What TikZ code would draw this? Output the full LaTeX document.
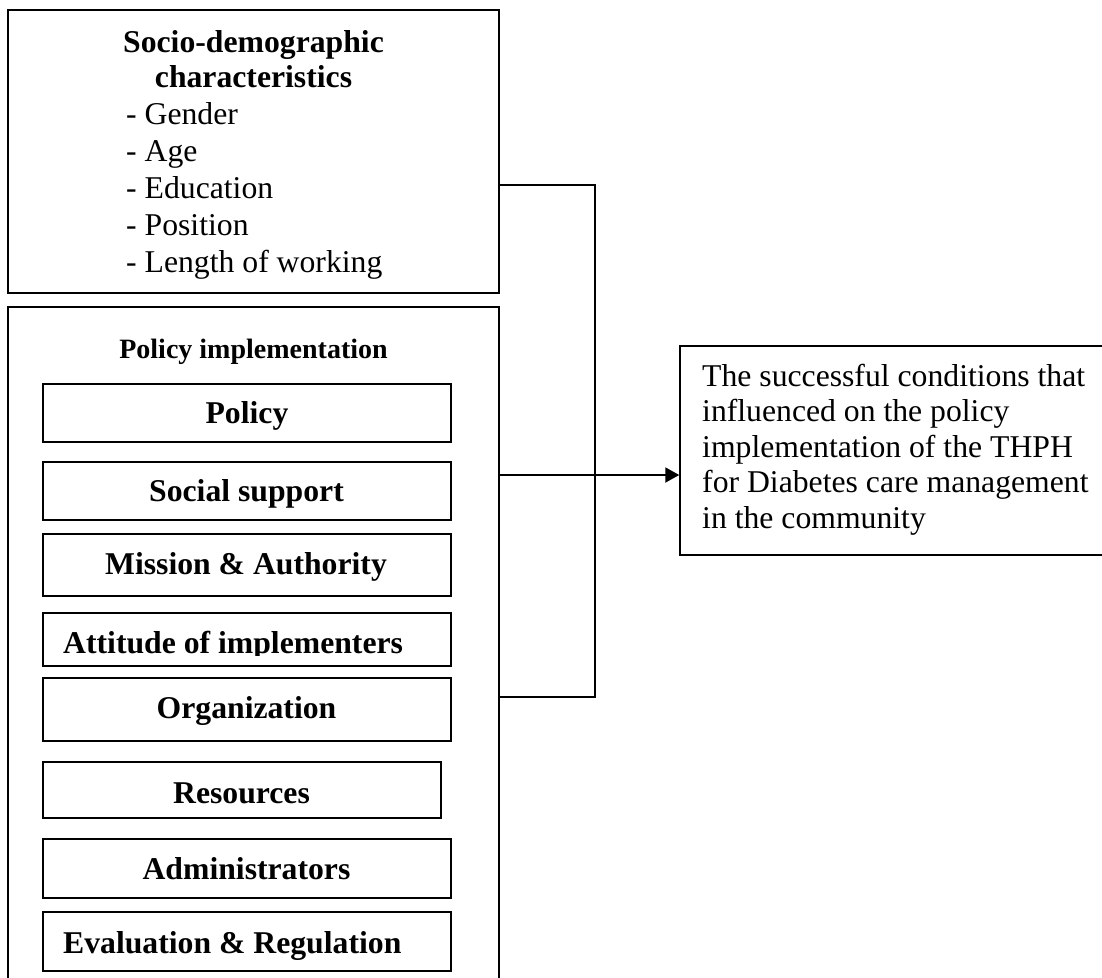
\documentclass[tikz,border=0pt]{standalone}
\usepackage{fontspec}
\setmainfont{Liberation Serif}
\usetikzlibrary{arrows.meta}
\begin{document}
\begin{tikzpicture}[x=1pt,y=-1pt,
  frame/.style={draw, line width=2pt, rectangle, inner sep=0pt},
  thinframe/.style={draw, line width=1.5pt, rectangle, inner sep=0pt},
  link/.style={draw, line width=1.7pt},
  lbl/.style={anchor=base, inner sep=0pt, font=\bfseries\fontsize{31.7}{35}\selectfont},
  lbll/.style={anchor=base west, inner sep=0pt, font=\bfseries\fontsize{31.7}{35}\selectfont},
  sublbl/.style={anchor=base, inner sep=0pt, font=\bfseries\fontsize{28}{32}\selectfont},
  txt/.style={anchor=base west, inner sep=0pt, font=\fontsize{31.7}{35}\selectfont}
]
\useasboundingbox (0,0) rectangle (1102,977);
\fill[white] (0,0) rectangle (1102,977);
\clip (0,0) rectangle (1102,977);

% socio-demographic box
\node[frame, minimum width=491pt, minimum height=283pt] (sd) at (253.5,151.5) {};
\node[lbl] (sdt1) at (253.5,52) {Socio-demographic};
\node[lbl] (sdt2) at (253.5,87) {characteristics};
\node[txt] (sd1) at (126,124) {- Gender};
\node[txt] (sd2) at (126,161) {- Age};
\node[txt] (sd3) at (126,198) {- Education};
\node[txt] (sd4) at (126,235) {- Position};
\node[txt] (sd5) at (126,272) {- Length of working};

% policy implementation box (open at the bottom edge of the picture)
\node[frame, minimum width=491pt, minimum height=693pt] (pi) at (253.5,653.5) {};
\node[sublbl] (pit) at (253.5,358) {Policy implementation};

\node[frame, minimum width=408pt, minimum height=58pt] (policy) at (247,413) {};
\node[lbl] (tpolicy) at (247,423) {Policy};
\node[frame, minimum width=408pt, minimum height=58pt] (social) at (247,491) {};
\node[lbl] (tsocial) at (246.5,501) {Social support};
\node[frame, minimum width=408pt, minimum height=62pt] (mission) at (247,565) {};
\node[lbl] (tmission) at (246,574) {Mission \& Authority};
\node[frame, minimum width=408pt, minimum height=53pt] (attitude) at (247,639.5) {};
\begin{scope}
  \clip (43,613) rectangle (451,655.5);
  \node[lbll] (tattitude) at (63,653) {Attitude of implementers};
\end{scope}
\node[frame, minimum width=408pt, minimum height=63pt] (organization) at (247,709.5) {};
\node[lbl] (torganization) at (246.5,718) {Organization};
\node[frame, minimum width=398pt, minimum height=56pt] (resources) at (242,790) {};
\node[lbl] (tresources) at (241.5,803) {Resources};
\node[frame, minimum width=408pt, minimum height=59pt] (admin) at (247,868.5) {};
\node[lbl] (tadmin) at (246.5,879) {Administrators};
\node[frame, minimum width=408pt, minimum height=59pt] (eval) at (247,941.5) {};
\node[lbll] (teval) at (63,953) {Evaluation \& Regulation};

% outcome box
\node[thinframe, minimum width=440pt, minimum height=209pt] (out) at (900,450.5) {};
\node[txt] (o1) at (702,386) {The successful conditions that};
\node[txt] (o2) at (702,421.5) {influenced on the policy};
\node[txt] (o3) at (702,457) {implementation of the THPH};
\node[txt] (o4) at (702,492.5) {for Diabetes care management};
\node[txt] (o5) at (702,528) {in the community};

% bracket connector
\coordinate (b1) at (sd.east |- 0,185);
\coordinate (b2) at (595,185);
\coordinate (b3) at (595,697);
\coordinate (b4) at (pi.east |- 0,697);
\draw[link, line cap=rect] (b1) -- (b2) -- (b3) -- (b4);

% arrow to outcome
\coordinate (a0) at (pi.east |- 0,475);
\draw[line width=2pt, -{Triangle[length=14pt,width=15pt]}] (a0) -- (a0 -| out.west);
\end{tikzpicture}
\end{document}
